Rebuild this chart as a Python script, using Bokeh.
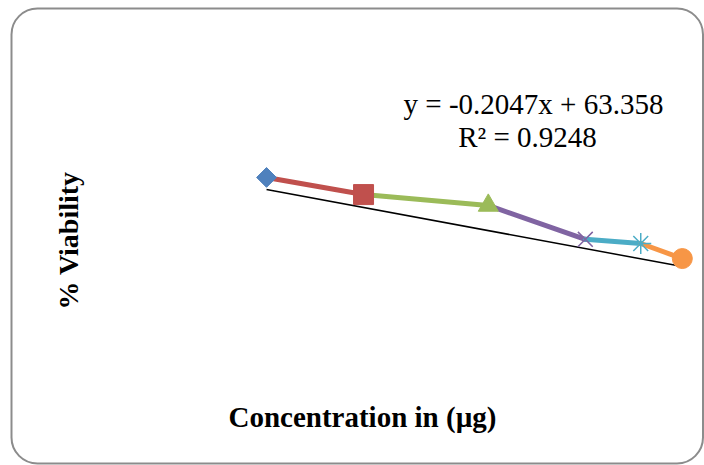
import math
from bokeh.plotting import figure
from bokeh.models import Label, BoxAnnotation, Range1d
from bokeh.embed import file_html
from bokeh.resources import INLINE

# data
concentration = [10, 31, 58, 79, 91, 100]
viability = [64.2, 60.1, 57.5, 49.4, 48.4, 44.8]
markers = ["square", "square", "triangle", "x", "asterisk", "circle"]
marker_angles = [math.pi / 4, 0, 0, 0, 0, 0]
marker_sizes = [14, 20, 20, 21, 21, 20]
colors = ["#4F81BD", "#C0504D", "#9BBB59", "#8064A2", "#4BACC6", "#F79646"]
trend_slope = -0.2047
trend_intercept = 63.358
eq_text = "y = -0.2047x + 63.358"
r2_text = "R\u00b2 = 0.9248"
x_title = "Concentration in (\u00b5g)"
y_title = "% Viability"

W, H = 704, 465
p = figure(width=W, height=H, output_backend="svg", toolbar_location=None,
           x_axis_type=None, y_axis_type=None, min_border=0,
           x_range=Range1d(-47.58, 104.80), y_range=Range1d(-4.71, 106.53))
p.outline_line_color = None
p.xgrid.visible = False
p.ygrid.visible = False
p.background_fill_color = "white"
p.border_fill_color = "white"

# rounded chart-area border
p.add_layout(BoxAnnotation(left=11, right=702.5, top=457, bottom=2,
                           left_units="screen", right_units="screen",
                           top_units="screen", bottom_units="screen",
                           fill_alpha=0, line_color="#8C8C8C", line_alpha=1, line_width=2,
                           border_radius=26))

# linear trendline from the stated equation
tx = [min(concentration), max(concentration)]
ty = [trend_intercept + trend_slope * v for v in tx]
p.line(tx, ty, line_color="black", line_width=1.5)

# connecting segments, coloured by the following series
p.segment(x0=concentration[:-1], y0=viability[:-1], x1=concentration[1:], y1=viability[1:],
          line_color=colors[1:], line_width=5, line_cap="round")

for xv, yv, m, a, s, c in zip(concentration, viability, markers, marker_angles, marker_sizes, colors):
    lw = 1.5 if m in ("x", "asterisk") else 1
    p.scatter([xv], [yv], marker=m, size=s, angle=a, fill_color=c, line_color=c, line_width=lw)

font = "Liberation Serif"
p.add_layout(Label(x=68, y=225, x_units="screen", y_units="screen", text=y_title,
                   angle=math.pi / 2, text_align="center", text_baseline="middle",
                   text_font=font, text_font_style="bold", text_font_size="28px",
                   text_color="black"))
p.add_layout(Label(x=362, y=49, x_units="screen", y_units="screen", text=x_title,
                   text_align="center", text_baseline="middle",
                   text_font=font, text_font_style="bold", text_font_size="29px",
                   text_color="black"))
p.add_layout(Label(x=533, y=362, x_units="screen", y_units="screen", text=eq_text,
                   text_align="center", text_baseline="middle",
                   text_font=font, text_font_size="29px", text_color="black"))
p.add_layout(Label(x=527, y=328.5, x_units="screen", y_units="screen", text=r2_text,
                   text_align="center", text_baseline="middle",
                   text_font=font, text_font_size="29px", text_color="black"))

open("out.html", "w").write(file_html(p, INLINE))
